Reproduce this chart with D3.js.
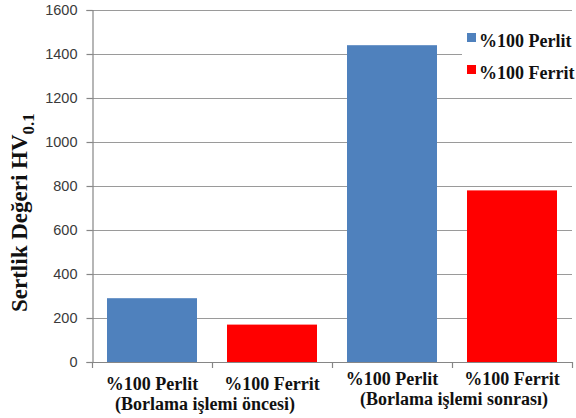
<!DOCTYPE html>
<html>
<head>
<meta charset="utf-8">
<script src="https://cdn.jsdelivr.net/npm/d3@7"></script>
<style>
  html, body { margin: 0; padding: 0; background: #fff; }
  svg { display: block; }
  .serif { font-family: "Liberation Serif", "Times New Roman", "DejaVu Serif", serif; font-weight: bold; }
  .sans { font-family: "Liberation Sans", Arial, sans-serif; }
</style>
</head>
<body>
<svg id="chart" width="576" height="418"></svg>
<script>
// Hardness of pearlitic and ferritic samples before and after boriding
const categories = ["p1", "f1", "p2", "f2"];
const categoryLabels = ["%100 Perlit", "%100 Ferrit", "%100 Perlit", "%100 Ferrit"];
const seriesNames = ["%100 Perlit", "%100 Ferrit"];
const seriesOfBar = [0, 1, 0, 1];
const hardnessValues = [290, 170, 1440, 780];
const groupLabels = ["(Borlama işlemi öncesi)", "(Borlama işlemi sonrası)"];
const yTicks = [0, 200, 400, 600, 800, 1000, 1200, 1400, 1600];
const colors = ["#4f81bd", "#ff0000"];

const svg = d3.select("#chart");
const plotLeft = 92, plotRight = 572, plotTop = 10, plotBottom = 362;

const x = d3.scaleBand().domain(categories).range([plotLeft, plotRight])
  .paddingInner(0.25).paddingOuter(0.125);
const y = d3.scaleLinear().domain([0, 1600]).range([plotBottom, plotTop]);

// gridlines
svg.append("g").selectAll("line").data(yTicks.slice(1)).join("line")
  .attr("x1", plotLeft).attr("x2", plotRight)
  .attr("y1", d => y(d) + 0.5).attr("y2", d => y(d) + 0.5)
  .attr("stroke", "#9a9a9a").attr("stroke-width", 1.2);

// bars
svg.append("g").selectAll("rect").data(categories).join("rect")
  .attr("x", d => x(d))
  .attr("width", x.bandwidth())
  .attr("y", (d, i) => y(hardnessValues[i]))
  .attr("height", (d, i) => y(0) - y(hardnessValues[i]))
  .attr("fill", (d, i) => colors[seriesOfBar[i]]);

// y axis
const yAxis = d3.axisLeft(y).tickValues(yTicks).tickFormat(d3.format("d"))
  .tickSize(6).tickPadding(9);
const gy = svg.append("g").attr("transform", `translate(${plotLeft + 0.5},0)`).call(yAxis);
gy.attr("font-family", null).attr("font-size", null);
gy.select(".domain").attr("stroke", "#868686").attr("stroke-width", 1.2);
gy.selectAll(".tick line").attr("stroke", "#868686").attr("stroke-width", 1.2);
gy.selectAll(".tick text").attr("class", "sans")
  .attr("font-size", 14.5).attr("fill", "#3a3a3a");

// x axis (ticks at category boundaries)
const boundaries = categories.map(c => x(c) - x.step() * x.paddingInner() / 2)
  .concat([plotRight]);
const gx = svg.append("g");
gx.append("line").attr("x1", plotLeft).attr("x2", plotRight)
  .attr("y1", plotBottom + 0.5).attr("y2", plotBottom + 0.5)
  .attr("stroke", "#868686").attr("stroke-width", 1.2);
gx.selectAll("line.tk").data(boundaries).join("line").attr("class", "tk")
  .attr("x1", d => d + 0.5).attr("x2", d => d + 0.5)
  .attr("y1", plotBottom).attr("y2", plotBottom + 6)
  .attr("stroke", "#868686").attr("stroke-width", 1.2);

// category labels (first line under each bar, second line per group)
const labelY = [390, 390, 385, 385];
svg.append("g").selectAll("text").data(categories).join("text")
  .attr("class", "serif")
  .attr("x", d => x(d) + x.bandwidth() / 2)
  .attr("y", (d, i) => labelY[i])
  .attr("text-anchor", "middle")
  .attr("font-size", 18)
  .attr("fill", "#111")
  .text((d, i) => categoryLabels[i]);

const groupY = [410, 405];
const groupShift = [-7, 2];
svg.append("g").selectAll("text").data(groupLabels).join("text")
  .attr("class", "serif")
  .attr("x", (d, i) => (x(categories[i * 2]) + x(categories[i * 2 + 1]) + x.bandwidth()) / 2 + groupShift[i])
  .attr("y", (d, i) => groupY[i])
  .attr("text-anchor", "middle")
  .attr("font-size", 18)
  .attr("fill", "#111")
  .text(d => d);

// y axis title
const title = svg.append("text")
  .attr("class", "serif")
  .attr("transform", "translate(27,312) rotate(-90)")
  .attr("font-size", 23)
  .attr("fill", "#111");
title.append("tspan").text("Sertlik Değeri HV");
title.append("tspan").attr("font-size", 17).attr("dy", 7).text("0.1");

// legend
const legend = svg.append("g");
legend.append("rect").attr("x", 462).attr("y", 22).attr("width", 114).attr("height", 60).attr("fill", "#fff");
const li = legend.selectAll("g").data(seriesNames).join("g")
  .attr("transform", (d, i) => `translate(467,${33 + i * 32})`);
li.append("rect").attr("width", 9).attr("height", 9).attr("fill", (d, i) => colors[i]);
li.append("text").attr("class", "serif").attr("x", 12).attr("y", 14)
  .attr("font-size", 18)
  .attr("fill", "#111").text(d => d);
</script>
</body>
</html>
